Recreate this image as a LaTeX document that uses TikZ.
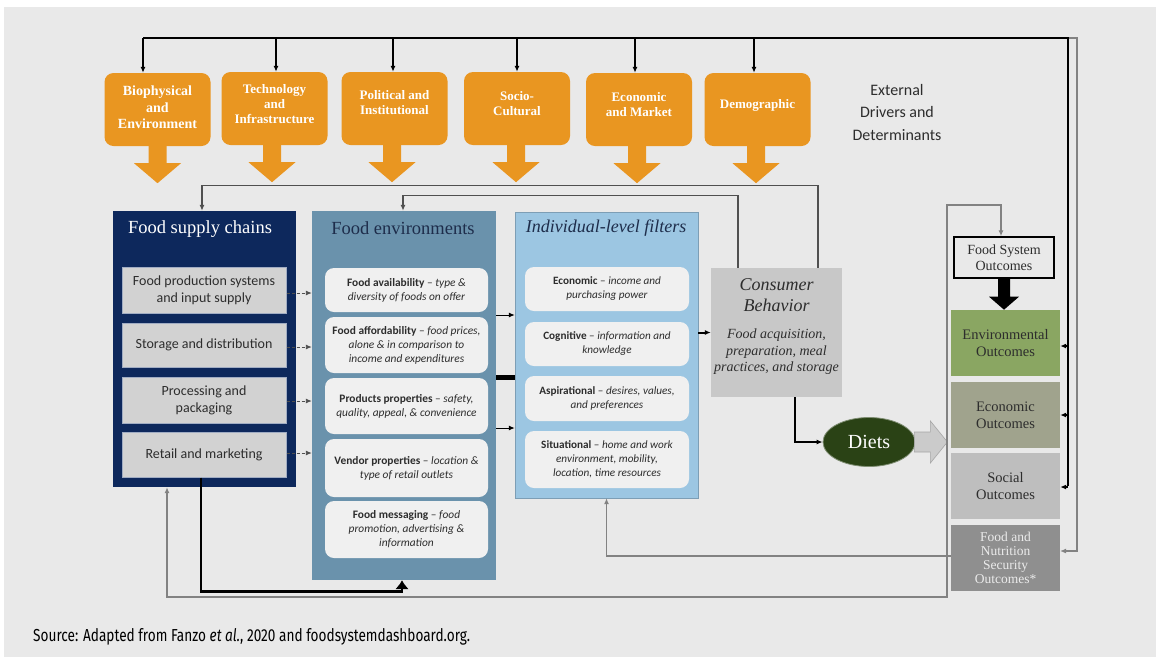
\documentclass[tikz,border=0pt]{standalone}
\usepackage{fontspec}
\usepackage{graphicx}
\setmainfont{Liberation Serif}
\newfontfamily\calib{Carlito}
\newfontfamily\fira{Fira Sans}
\usetikzlibrary{arrows.meta,calc,shapes.geometric}
\definecolor{bg}{RGB}{233,233,233}
\definecolor{orng}{RGB}{233,150,33}
\definecolor{navy}{RGB}{13,40,92}
\definecolor{sgray}{RGB}{210,210,210}
\definecolor{sedge}{RGB}{160,172,195}
\definecolor{febl}{RGB}{106,146,172}
\definecolor{flbl}{RGB}{156,198,226}
\definecolor{subw}{RGB}{240,240,240}
\definecolor{cbg}{RGB}{200,200,200}
\definecolor{dgreen}{RGB}{42,66,21}
\definecolor{envg}{RGB}{138,166,98}
\definecolor{ecog}{RGB}{160,163,141}
\definecolor{socg}{RGB}{190,190,190}
\definecolor{fnsg}{RGB}{143,143,143}
\definecolor{txtd}{RGB}{45,45,45}
\definecolor{ttl}{RGB}{30,45,75}
\definecolor{lng}{RGB}{130,130,130}
\definecolor{lnd}{RGB}{80,80,80}
\newcommand\oarr[2]{\fill[orng] ($(#1.south)+(#2,0)+(-9,-1)$) -- ($(#1.south)+(#2,0)+(-9,17)$) -- ($(#1.south)+(#2,0)+(-23.5,17)$) -- ($(#1.south)+(#2,0)+(0,37)$) -- ($(#1.south)+(#2,0)+(23.5,17)$) -- ($(#1.south)+(#2,0)+(9,17)$) -- ($(#1.south)+(#2,0)+(9,-1)$) -- cycle;}
\tikzset{
  drvbox/.style={rounded corners=9pt, fill=orng, minimum width=106pt, minimum height=73pt, inner sep=0pt},
  drvtxt/.style={text=white, font=\bfseries\fontsize{13}{15}\selectfont, align=center, inner sep=0pt},
  sbox/.style={fill=sgray, draw=sedge, line width=1pt, minimum width=164pt, inner sep=0pt, align=center, text=txtd, font=\calib\fontsize{14}{17}\selectfont},
  ebox/.style={rounded corners=9pt, fill=subw, minimum width=163pt, inner sep=0pt, align=center, text=txtd, font=\calib\fontsize{11.4}{14}\selectfont},
  fbox/.style={ebox, minimum width=164pt, font=\calib\fontsize{11.2}{14}\selectfont},
  obox/.style={minimum width=109pt, minimum height=66pt, inner sep=0pt, align=center, font=\fontsize{14.5}{17}\selectfont, text=txtd},
  arw/.style={-{Latex[length=6pt,width=5pt]}},
  bline/.style={black, line width=2pt},
  gline/.style={lng, line width=1.2pt},
  dline/.style={lnd, line width=1.3pt},
  ttlf/.style={font=\fontsize{18.5}{20}\selectfont, inner sep=0pt}
}
\begin{document}
\begin{tikzpicture}[x=1pt,y=-1pt]
\fill[white] (0,0) rectangle (1156,657);
\fill[bg] (4,7) rectangle (1156,657);
\useasboundingbox (0,0) rectangle (1156,657);

% drivers
\node[drvbox] (d1) at (157.5,109.5) {};
\node[drvbox] (d2) at (274.5,108.5) {};
\node[drvbox] (d3) at (394.5,108.5) {};
\node[drvbox] (d4) at (517,108.5) {};
\node[drvbox] (d5) at (639,109.5) {};
\node[drvbox] (d6) at (757.5,109.5) {};
\node[drvtxt, font=\bfseries\fontsize{14}{16.5}\selectfont] (d1t) at ([yshift=2pt]d1.center) {Biophysical\\and\\Environment};
\node[drvtxt] (d2t) at ([yshift=4.5pt]d2.center) {Technology\\and\\Infrastructure};
\node[drvtxt] (d3t) at ([yshift=5.5pt]d3.center) {Political and\\Institutional};
\node[drvtxt] (d4t) at ([yshift=5pt]d4.center) {Socio-\\Cultural};
\node[drvtxt] (d5t) at ([yshift=5pt]d5.center) {Economic\\and Market};
\node[drvtxt] (d6t) at ([yshift=4.5pt]d6.center) {Demographic};
\oarr{d1}{0}
\oarr{d2}{-2.5}
\oarr{d3}{-2.5}
\oarr{d4}{-1}
\oarr{d5}{-2}
\oarr{d6}{-1.5}

\node[font=\calib\fontsize{16}{22.5}\selectfont, align=center, text=txtd] (ext) at (897,112) {External\\Drivers and\\Determinants};

% top bus
\coordinate (tbL) at (143,38);
\coordinate (tbR) at (1068,38);
\coordinate (tbR2) at (1077,38);
\draw[gline, arw] (tbR) -- (tbR2) -- (tbR2 |- 0,551) -- (1060,551);

% food supply chains
\node[fill=navy, minimum width=183pt, minimum height=276pt, inner sep=0pt] (fsc) at (204.5,349) {};
\node[ttlf, text=white] (fsct) at (200,229) {Food supply chains};
\node[sbox, minimum height=46pt] (s1) at (204,290) {Food production systems\\and input supply};
\node[sbox, minimum height=44pt] (s2) at (204,345) {Storage and distribution};
\node[sbox, minimum height=46pt] (s3) at (204,400) {Processing and\\packaging};
\node[sbox, minimum height=45pt] (s4) at (204,454.5) {Retail and marketing};

% food environments
\node[fill=febl, minimum width=184pt, minimum height=369pt, inner sep=0pt] (fe) at (404,395.5) {};
\node[ttlf, text=ttl] (fet) at (403,228) {Food environments};
\node[ebox, minimum height=44pt] (e1) at (406.5,290) {\textbf{Food availability} – {\itshape type \&}\\{\itshape diversity of foods on offer}};
\node[ebox, minimum height=56pt] (e2) at (406.5,345) {\textbf{Food affordability} – {\itshape food prices,}\\{\itshape alone \& in comparison to}\\{\itshape income and expenditures}};
\node[ebox, minimum height=56pt] (e3) at (406.5,406) {\textbf{Products properties} – {\itshape safety,}\\{\itshape quality, appeal, \& convenience}};
\node[ebox, minimum height=58pt] (e4) at (406.5,468) {\textbf{Vendor properties} – {\itshape location \&}\\{\itshape type of retail outlets}};
\node[ebox, minimum height=57pt] (e5) at (406.5,529.5) {\textbf{Food messaging} – {\itshape food}\\{\itshape promotion, advertising \&}\\{\itshape information}};

% individual-level filters
\node[fill=flbl, draw=flbl!80!black, minimum width=183pt, minimum height=286pt, inner sep=0pt] (fl) at (606.5,355) {};
\node[ttlf, text=ttl, font=\itshape\fontsize{18}{20}\selectfont] (flt) at (606,228) {Individual-level filters};
\node[fbox, minimum height=44pt] (f1) at (607,289) {\textbf{Economic} – {\itshape income and}\\{\itshape purchasing power}};
\node[fbox, minimum height=44pt] (f2) at (607,344) {\textbf{Cognitive} – {\itshape information and}\\{\itshape knowledge}};
\node[fbox, minimum height=45pt] (f3) at (607,398.5) {\textbf{Aspirational} – {\itshape desires, values,}\\{\itshape and preferences}};
\node[fbox, minimum height=57pt] (f4) at (607,459.5) {\textbf{Situational} – {\itshape home and work}\\{\itshape environment, mobility,}\\{\itshape location, time resources}};

% consumer behavior
\node[fill=cbg, minimum width=131pt, minimum height=129pt, inner sep=0pt] (cb) at (776.5,332.5) {};
\node[font=\itshape\fontsize{18}{21}\selectfont, text=txtd, align=center, inner sep=0pt] (cbt1) at (776.5,295.5) {Consumer\\Behavior};
\node[font=\itshape\fontsize{14}{16.5}\selectfont, text=txtd, align=center, inner sep=0pt] (cbt2) at (776.5,352) {Food acquisition,\\preparation, meal\\practices, and storage};

% diets
\node[ellipse, fill=dgreen, draw=dgreen!60!white, line width=0.8pt, minimum width=92pt, minimum height=49pt, inner sep=0pt, text=white, font=\fontsize{20}{22}\selectfont] (di) at (869,442) {Diets};

% outcomes
\node[draw=black, line width=1.4pt, fill=bg, minimum width=100pt, minimum height=41pt, inner sep=0pt, align=center, font=\fontsize{14}{16.5}\selectfont, text=txtd] (fso) at (1004,257.5) {Food System\\Outcomes};
\node[obox, fill=envg] (o1) at (1005.5,343) {Environmental\\Outcomes};
\node[obox, fill=ecog] (o2) at (1005.5,415) {Economic\\Outcomes};
\node[obox, fill=socg] (o3) at (1005.5,486) {Social\\Outcomes};
\node[obox, fill=fnsg, text=white!92!black, font=\fontsize{13.5}{14}\selectfont] (o4) at (1005.5,558) {Food and\\Nutrition\\Security\\Outcomes*};

% bus arrows
\draw[bline] (tbL) -- (tbR) -- (tbR |- o3.east);
\draw[bline, arw] ([xshift=-14.5pt]d1.north |- tbL) -- ([xshift=-14.5pt]d1.north);
\draw[bline, arw] ([xshift=1.5pt]d2.north |- tbL) -- ([xshift=1.5pt]d2.north);
\draw[bline, arw] ([xshift=-1.5pt]d3.north |- tbL) -- ([xshift=-1.5pt]d3.north);
\draw[bline, arw] (d4.north |- tbL) -- (d4.north);
\draw[bline, arw] ([xshift=-4pt]d5.north |- tbL) -- ([xshift=-4pt]d5.north);
\draw[bline, arw] ([xshift=-3.5pt]d6.north |- tbL) -- ([xshift=-3.5pt]d6.north);
\draw[black, line width=1.2pt, arw] (tbR |- 0,346) -- (o1.east |- 0,346);
\draw[black, line width=1.2pt, arw] (tbR |- o2.east) -- (o2.east);
\draw[black, line width=1.2pt, arw] (tbR |- 0,487) -- (o3.east |- 0,487);

% consumer behavior loops
\draw[dline, arw] ([xshift=41.5pt]cb.north) -- ++(0,-82) -| ([xshift=-2.5pt]fsc.north);
\draw[dline, arw] ([xshift=-38.5pt]cb.north) -- ++(0,-72) -| ([xshift=-1pt]fe.north);

% supply -> environment
\draw[lnd, line width=0.9pt, dashed, dash pattern=on 3pt off 2pt, arw] ([yshift=-3pt]s1.east) -- ([yshift=-3pt]s1.east -| fe.west);
\draw[lnd, line width=0.9pt, dashed, dash pattern=on 3pt off 2pt, arw] ([yshift=-2pt]s2.east) -- ([yshift=-2pt]s2.east -| fe.west);
\draw[lnd, line width=0.9pt, dashed, dash pattern=on 3pt off 2pt, arw] ([yshift=-1pt]s3.east) -- ([yshift=-1pt]s3.east -| fe.west);
\draw[lnd, line width=0.9pt, dashed, dash pattern=on 3pt off 2pt, arw] ([yshift=1.5pt]s4.east) -- ([yshift=1.5pt]s4.east -| fe.west);

% environment -> filters
\coordinate (ef1) at (fe.east |- 0,315);
\coordinate (ef2) at (fe.east |- 0,428);
\draw[black, line width=1pt, arw] (ef1) -- (ef1 -| fl.west);
\draw[black, line width=1pt, arw] (ef2) -- (ef2 -| fl.west);
\draw[black, line width=5pt] (fe.east |- e3.north) -- (fl.west |- e3.north);

% filters -> consumer behavior
\draw[black, line width=2pt, arw] (cb.west -| fl.east) -- (cb.west);

% consumer behavior -> diets
\draw[black, line width=2.5pt, arw] ([xshift=18.5pt]cb.south) |- (di.west);

% diets -> outcomes block arrow
\filldraw[fill=cbg!95!white, draw=white!65!black, line width=0.6pt] ($(di.east)+(-1,-10)$) -- ($(di.east)+(15,-10)$) -- ($(di.east)+(15,-21)$) -- ($(di.east)+(32,0)$) -- ($(di.east)+(15,21)$) -- ($(di.east)+(15,10)$) -- ($(di.east)+(-1,10)$) -- cycle;

% FSO -> environmental block arrow
\fill[black] ($(fso.south)+(-6,0)$) -- ($(fso.south)+(-6,18)$) -- ($(fso.south)+(-15,18)$) -- ($(fso.south)+(0,31)$) -- ($(fso.south)+(15,18)$) -- ($(fso.south)+(6,18)$) -- ($(fso.south)+(6,0)$) -- cycle;

% outcomes feedback loops
\coordinate (lpT) at (947,205);
\coordinate (lpB) at (947,597);
\draw[gline, {Latex[length=6pt,width=5pt]}-{Latex[length=6pt,width=5pt]}] ([xshift=-37.5pt]fsc.south) |- (lpB) -- (lpT) -| ([xshift=-3pt]fso.north);
\draw[gline, arw] (o4.west |- 0,556) -| (fl.south);

% retail -> food environment
\draw[black, line width=2.5pt, -{Latex[length=9pt,width=14pt]}] ([xshift=-3pt]s4.south) -- ++(0,114) -| ([xshift=-2pt]fe.south);

% source
\node[anchor=west, inner sep=0pt, text=black] (src) at (33,637) {\resizebox{437pt}{13pt}{\fira Source: Adapted from Fanzo \textit{et al.}, 2020 and foodsystemdashboard.org.}};
\end{tikzpicture}
\end{document}
